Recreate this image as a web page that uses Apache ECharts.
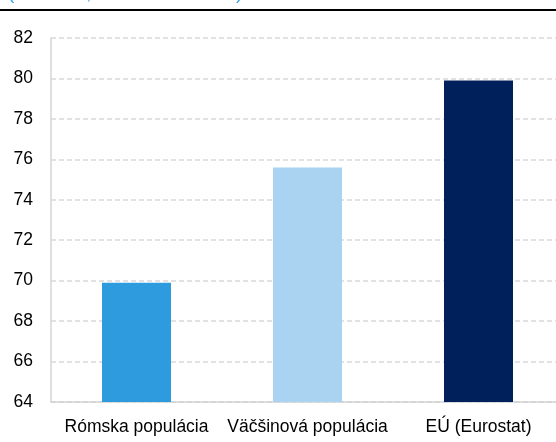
<!DOCTYPE html>
<html>
<head>
<meta charset="utf-8">
<script src="https://cdn.jsdelivr.net/npm/echarts@6/dist/echarts.min.js"></script>
<style>
  html, body { margin: 0; padding: 0; background: #fff; overflow: hidden; }
  /* plocha grafu presahuje pravý okraj obrázka */
  #chart { width: 564px; height: 442px; }
</style>
</head>
<body>
<div id="chart"></div>
<script>
const categories = ['Rómska populácia', 'Väčšinová populácia', 'EÚ (Eurostat)']
const values = [69.9, 75.6, 79.9]
const barColors = ['#2E9BDE', '#AAD3F1', '#00205B']
const yTicks = [64, 66, 68, 70, 72, 74, 76, 78, 80, 82]

const chart = echarts.init(document.getElementById('chart'))
const option = {
  animation: false,
  textStyle: { fontFamily: 'Liberation Sans, Arial, sans-serif' },
  graphic: [
    // podnadpis odrezaný nad čiarou
    {
      type: 'text',
      left: 8,
      top: -16,
      style: {
        text: '(v rokoch, stav k roku 2021)',
        fill: '#3BA3E3',
        font: '19px Liberation Sans'
      }
    },
    {
      type: 'rect',
      shape: { x: 0, y: 9, width: 564, height: 2 },
      style: { fill: '#000' }
    }
  ],
  grid: { left: 51, right: 0, top: 38, bottom: 40, containLabel: false },
  xAxis: {
    type: 'category',
    data: categories,
    axisLine: { lineStyle: { color: '#d4d4d4', width: 1.5 } },
    axisTick: { show: false },
    axisLabel: { color: '#000', fontSize: 17.5, margin: 16, interval: 0 }
  },
  yAxis: {
    type: 'value',
    min: yTicks[0],
    max: yTicks[yTicks.length - 1],
    interval: 2,
    axisLine: { show: true, lineStyle: { color: '#d4d4d4', width: 1.5 } },
    axisTick: { show: false },
    axisLabel: { color: '#000', fontSize: 17.5, margin: 18 },
    splitLine: { lineStyle: { color: '#d9d9d9', type: [5, 3], width: 1.5 } }
  },
  series: [
    {
      type: 'bar',
      barWidth: 69,
      data: values.map((v, i) => ({ value: v, itemStyle: { color: barColors[i] } }))
    }
  ]
}
chart.setOption(option)
</script>
</body>
</html>
